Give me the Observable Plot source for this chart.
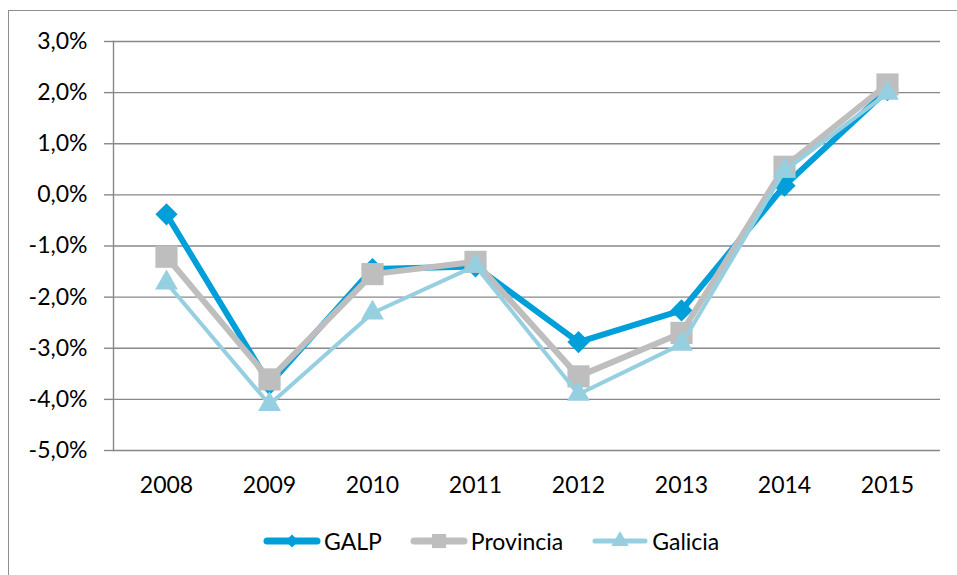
<!DOCTYPE html>
<html><head><meta charset="utf-8">
<script src="https://cdn.jsdelivr.net/npm/d3@7"></script>
<script src="https://cdn.jsdelivr.net/npm/@observablehq/plot@0.6"></script>
<style>
body{margin:0;background:#fff;font-family:Lato,"Open Sans",sans-serif}
#wrap{position:relative;width:957px;height:575px;overflow:hidden;background:#fff}
#frame{position:absolute;left:8px;top:10px;width:960px;height:600px;border-left:1.5px solid #8e8e8e;border-top:1.5px solid #8e8e8e;box-sizing:border-box}
#chart{position:absolute;left:0;top:0}
#legend{position:absolute;left:263px;top:527px;display:flex;align-items:center;font-size:23px;color:#000;line-height:28px}
#legend .item{display:flex;align-items:center;margin-right:28px}
#legend svg{margin-right:3px}
</style>
</head><body>
<div id="wrap"><div id="frame"></div><div id="chart"></div><div id="legend"></div></div>
<script>
// Data (percent)
const years = ["2008","2009","2010","2011","2012","2013","2014","2015"];
const galp      = [-0.38, -3.70, -1.45, -1.40, -2.88, -2.26, 0.18, 2.05];
const provincia = [-1.21, -3.61, -1.55, -1.31, -3.55, -2.70, 0.55, 2.16];
const galicia   = [-1.72, -4.10, -2.31, -1.39, -3.90, -2.92, 0.47, 1.99];
const seriesNames = ["GALP", "Provincia", "Galicia"];
const seriesColors = ["#009FDA", "#BEBEBE", "#95CFE0"];
const yTicks = [-5, -4, -3, -2, -1, 0, 1, 2, 3];

const fmt = d => d.toFixed(1).replace(".", ",") + "%";
const toRows = (name, vals) => years.map((y, i) => ({year: y, value: vals[i], series: name}));
const rowsG = toRows("GALP", galp);
const rowsP = toRows("Provincia", provincia);
const rowsC = toRows("Galicia", galicia);

const styles = {
  GALP:      {color: seriesColors[0], width: 6, symbol: "diamond2", r: 10},
  Provincia: {color: seriesColors[1], width: 6, symbol: "square",   r: 12.5},
  Galicia:   {color: seriesColors[2], width: 4, symbol: "triangle", r: 8.5}
};

const seriesMarks = (rows, s) => [
  Plot.line(rows, {x: "year", y: "value", stroke: s.color, strokeWidth: s.width, strokeLinejoin: "round"}),
  Plot.dot(rows, {x: "year", y: "value", symbol: s.symbol, r: s.r, fill: s.color, stroke: "none"})
];

const plot = Plot.plot({
  width: 957,
  height: 515,
  marginTop: 41,
  marginBottom: 65,
  marginLeft: 113,
  marginRight: 17,
  style: {fontFamily: "Lato, 'Open Sans', sans-serif", fontSize: "23px", color: "#000", background: "transparent"},
  x: {type: "point", domain: years, padding: 0.5, label: null},
  y: {domain: [-5, 3], label: null},
  marks: [
    Plot.gridY(yTicks, {stroke: "#888888", strokeOpacity: 1, strokeWidth: 1.4}),
    Plot.frame({anchor: "left", stroke: "#888888", strokeWidth: 1.4}),
    Plot.axisY(yTicks, {tickSize: 9, tickPadding: 17, tickFormat: fmt, stroke: "#888888", strokeWidth: 1.4, fill: "#000", label: null}),
    Plot.axisX({tickSize: 0, tickPadding: 26, fill: "#000", label: null}),
    ...seriesMarks(rowsG, styles.GALP),
    ...seriesMarks(rowsP, styles.Provincia),
    ...seriesMarks(rowsC, styles.Galicia)
  ]
});
document.getElementById("chart").appendChild(plot);

// Legend
const legendSizes = {GALP: 110, Provincia: 200, Galicia: 130};
const legend = d3.select("#legend");
seriesNames.forEach(name => {
  const s = styles[name];
  const item = legend.append("div").attr("class", "item");
  const svg = item.append("svg").attr("width", 58).attr("height", 22);
  svg.append("line").attr("x1", 4).attr("x2", 54).attr("y1", 11).attr("y2", 11)
    .attr("stroke", s.color).attr("stroke-width", name === "Galicia" ? 5 : 7).attr("stroke-linecap", "round");
  const sym = {diamond2: d3.symbolDiamond2, square: d3.symbolSquare, triangle: d3.symbolTriangle}[s.symbol];
  svg.append("path").attr("transform", "translate(29,11)")
    .attr("d", d3.symbol(sym, legendSizes[name])()).attr("fill", s.color);
  item.append("span").text(name);
});
</script>
</body></html>
